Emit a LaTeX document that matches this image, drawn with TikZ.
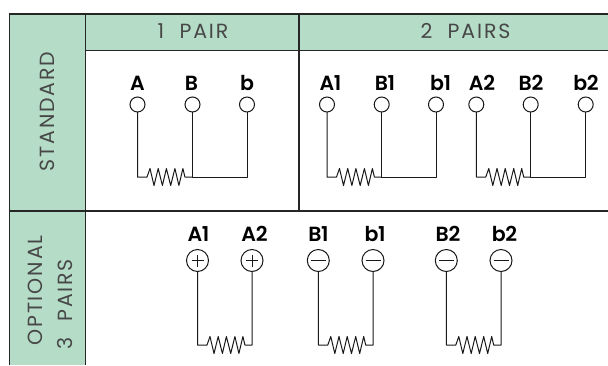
\documentclass[tikz,border=0pt]{standalone}
\usepackage{fontspec}
\setmainfont{Poppins}
\newfontfamily\headfont[LetterSpace=9]{Poppins}
\newfontfamily\labfont[LetterSpace=-2]{Poppins SemiBold}
\definecolor{cellgreen}{HTML}{B5DCC7}
\tikzset{
  x=1pt,y=-1pt,
  frame/.style={draw=black!85,line width=1.6pt},
  wire/.style={draw=black!90,line width=1pt,line join=round},
  smallterm/.style={circle,draw=black!90,line width=1pt,minimum size=15pt,inner sep=0pt,outer sep=0pt},
  bigterm/.style={circle,draw=black!90,line width=1pt,minimum size=22pt,inner sep=0pt,outer sep=0pt},
  lab/.style={font=\labfont\fontsize{20.5}{21}\selectfont,text=black,inner sep=0pt,anchor=base},
  head/.style={font=\headfont\fontsize{20.5}{21}\selectfont,text=black!72,inner sep=0pt,anchor=center,align=center},
}
\newcommand\zig{-- ++(3,-8.5) -- ++(4,17) -- ++(4.2,-17) -- ++(4.2,17) -- ++(4,-17) -- ++(4.3,17) -- ++(4.2,-17) -- ++(4,17) -- ++(4,-17) -- ++(2,8.5)}
\newcommand\threeterm[6]{%
  \node[smallterm] (#1) at (#4,104.5) {};
  \node[smallterm] (#2) at (#5,104.5) {};
  \node[smallterm] (#3) at (#6,104.5) {};
  \draw[wire] (#1.south) -- (#1.south |- wa) -- ++(9.5,0) \zig -- (#2.south |- wa);
  \draw[wire] (#2.south) -- (#2.south |- wa) -- (#3.south |- wa) -- (#3.south);
}
\newcommand\pairterm[4]{%
  \node[bigterm] (#1) at (#3,260.5) {};
  \node[bigterm] (#2) at (#4,260.5) {};
  \draw[wire] (#1.south) -- (#1.south |- wb) -- ++(9.5,0) \zig -- (#2.south |- wb) -- (#2.south);
}
\newcommand\minussign[1]{\draw[wire] (#1) ++(-7.5,0) -- ++(15,0);}
\newcommand\plussign[1]{\draw[wire] (#1) ++(-6,0) -- ++(12,0); \draw[wire] (#1) ++(0,-6) -- ++(0,12);}
\begin{document}
\begin{tikzpicture}
\useasboundingbox[fill=white] (0,0) rectangle (608,365);
\coordinate (wa) at (0,177);
\coordinate (wb) at (0,345);
% frame
\fill[cellgreen] (9.5,14) rectangle (85.5,365);
\fill[cellgreen] (85.5,14) rectangle (608,50.5);
\draw[frame] (9.5,365) -- (9.5,14) -- (608,14);
\draw[frame] (85.5,14) -- (85.5,365);
\draw[frame] (85.5,50.5) -- (608,50.5);
\draw[frame] (9.5,211) -- (608,211);
\draw[frame] (299,14) -- (299,211);
% headings
\node[head] (h1) at (193,31.5) {1\hspace{8pt} PAIR};
\node[head] (h2) at (465.5,31.5) {2\hspace{8pt} PAIRS};
\node[head,rotate=90] (s1) at (47.5,111.5) {STANDARD};
\node[head,rotate=90] (s2) at (35,290.5) {OPTIONAL};
\node[head,rotate=90] (s3) at (65,304) {3\hspace{8pt} PAIRS};
% standard
\threeterm{a}{b}{c}{137.5}{192.5}{247}
\threeterm{aa}{ab}{ac}{327}{381.7}{436}
\threeterm{ba}{bb}{bc}{476.3}{530.7}{585.7}
\node[lab] (al) at (137.5,90) {A};
\node[lab] (bl) at (191.5,90) {B};
\node[lab] (cl) at (247,90) {b};
\node[lab] (aal) at (330.5,90) {A1};
\node[lab] (abl) at (385,90) {B1};
\node[lab] (acl) at (440.5,90) {b1};
\node[lab] (bal) at (482,90) {A2};
\node[lab] (bbl) at (531,90) {B2};
\node[lab] (bcl) at (586,90) {b2};
% optional
\pairterm{pa}{pb}{197.5}{252}
\pairterm{pc}{pd}{318.3}{373}
\pairterm{pe}{pf}{446.3}{501}
\node[lab] (pal) at (198.5,241) {A1};
\node[lab] (pbl) at (254.5,241) {A2};
\node[lab] (pcl) at (318.5,241) {B1};
\node[lab] (pdl) at (375,241) {b1};
\node[lab] (pel) at (448,241) {B2};
\node[lab] (pfl) at (504.5,241) {b2};
\plussign{pa}\plussign{pb}
\minussign{pc}\minussign{pd}\minussign{pe}\minussign{pf}
\end{tikzpicture}
\end{document}
